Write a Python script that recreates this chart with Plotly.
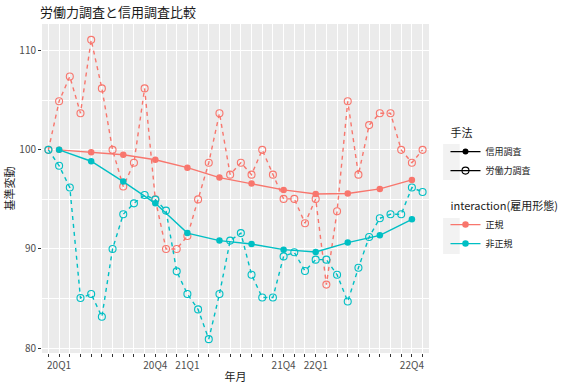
import plotly.graph_objects as go

# Categories: months Jan 2020 .. Dec 2022
months = [f"{y}-{m:02d}" for y in (2020, 2021, 2022) for m in range(1, 13)]

# Tick labels (only at quarter-centre months)
tick_label_map = {
    "2020-02": "20Q1", "2020-11": "20Q4",
    "2021-02": "21Q1", "2021-11": "21Q4",
    "2022-02": "22Q1", "2022-11": "22Q4",
}
tick_text = [tick_label_map.get(m, "") for m in months]

# 信用調査 (quarterly)
credit_months = ["2020-02", "2020-05", "2020-08", "2020-11",
                 "2021-02", "2021-05", "2021-08", "2021-11",
                 "2022-02", "2022-05", "2022-08", "2022-11"]
credit_regular = [100.0, 99.76, 99.5, 99.0, 98.2, 97.2, 96.6, 95.96, 95.55, 95.6, 96.06, 96.97]
credit_nonregular = [100.0, 98.85, 96.8, 94.6, 91.6, 90.84, 90.5, 89.93, 89.7, 90.64, 91.37, 92.99]

# 労働力調査 (monthly)
labor_regular = [100.0, 104.9, 107.4, 103.7, 111.1, 106.2, 100.0, 96.3, 98.7, 106.2, 95.0, 90.0,
                 90.0, 91.3, 95.0, 98.7, 103.7, 97.5, 98.7, 97.5, 100.0, 97.5, 95.05, 95.05,
                 92.6, 95.05, 86.4, 93.8, 104.9, 97.5, 102.5, 103.7, 103.7, 100.0, 98.7, 100.0]
labor_nonregular = [100.0, 98.4, 96.2, 85.05, 85.45, 83.16, 90.0, 93.5, 94.6, 95.45, 94.98, 93.87,
                    87.74, 85.45, 83.9, 80.9, 85.45, 90.84, 91.6, 87.4, 85.1, 85.1, 89.25, 89.66,
                    87.78, 88.92, 88.92, 87.4, 84.7, 88.1, 91.2, 93.1, 93.5, 93.5, 96.2, 95.75]

RED = "#F8766D"
TEAL = "#00BFC4"
FONT = "Noto Sans CJK JP"

# panel geometry (pixels)
L, R, T, B = 42, 141, 24, 34
W, H = 580, 387
PW, PH = W - L - R, H - T - B


def px_x(x):
    return (x - L) / PW


def px_y(y):
    return (H - B - y) / PH


fig = go.Figure()

for vals, col in ((labor_regular, RED), (labor_nonregular, TEAL)):
    fig.add_trace(go.Scatter(
        x=months, y=vals, mode="lines+markers", showlegend=False,
        line=dict(color=col, width=1.4, dash="4px,4px"),
        marker=dict(symbol="circle-open", size=7, color=col, line=dict(width=1.1)),
    ))
for vals, col in ((credit_regular, RED), (credit_nonregular, TEAL)):
    fig.add_trace(go.Scatter(
        x=credit_months, y=vals, mode="lines+markers", showlegend=False,
        line=dict(color=col, width=1.4),
        marker=dict(symbol="circle", size=6.5, color=col),
    ))

# Legend-only traces
fig.add_trace(go.Scatter(
    x=[None], y=[None], mode="lines+markers", name="信用調査",
    legendgroup="method", legendgrouptitle=dict(text="手法", font=dict(size=11, color="#1a1a1a")),
    line=dict(color="black", width=1.4), marker=dict(symbol="circle", size=6, color="black"),
))
fig.add_trace(go.Scatter(
    x=[None], y=[None], mode="lines+markers", name="労働力調査",
    legendgroup="method",
    line=dict(color="black", width=1.4),
    marker=dict(symbol="circle-open", size=7, color="black", line=dict(width=1.1)),
))
fig.add_trace(go.Scatter(
    x=[None], y=[None], mode="lines+markers", name="正規",
    legendgroup="type", legendgrouptitle=dict(text="interaction(雇用形態)", font=dict(size=11, color="#1a1a1a")),
    line=dict(color=RED, width=1.4), marker=dict(symbol="circle", size=6.5, color=RED),
))
fig.add_trace(go.Scatter(
    x=[None], y=[None], mode="lines+markers", name="非正規",
    legendgroup="type",
    line=dict(color=TEAL, width=1.4), marker=dict(symbol="circle", size=6.5, color=TEAL),
))

fig.update_layout(
    width=W, height=H,
    margin=dict(l=L, r=R, t=T, b=B),
    paper_bgcolor="white", plot_bgcolor="#EBEBEB",
    font=dict(family=FONT, color="#4D4D4D", size=10),
    title=dict(text="労働力調査と信用調査比較", x=40 / W, xanchor="left",
               y=1 - 12 / H, yanchor="middle", pad=dict(l=0, r=0, t=0, b=0),
               font=dict(size=13, color="#1a1a1a", family=FONT)),
    legend=dict(x=1.0426, xanchor="left", y=0.714, yanchor="top",
                font=dict(size=9, color="#1a1a1a"), tracegroupgap=16,
                itemwidth=30, bgcolor="rgba(0,0,0,0)"),
    xaxis=dict(
        type="category", categoryorder="array", categoryarray=months,
        tickmode="array", tickvals=months, ticktext=tick_text, automargin=False,
        range=[-0.6, 35.6], showgrid=True, gridcolor="white", gridwidth=1,
        ticks="outside", ticklen=3, tickcolor="#333333", tickwidth=1,
        tickfont=dict(size=10, color="#4D4D4D"), zeroline=False,
        title=dict(text="年月", font=dict(size=11, color="#1a1a1a"), standoff=2),
    ),
    yaxis=dict(
        range=[79.5, 112.7], tick0=80, dtick=10, showgrid=True, gridcolor="white", gridwidth=1.1,
        minor=dict(dtick=5, tick0=80, showgrid=True, gridcolor="white", gridwidth=0.5),
        ticks="outside", ticklen=3, tickcolor="#333333", tickwidth=1, automargin=False,
        tickfont=dict(size=10, color="#4D4D4D"), zeroline=False,
        title=dict(text="基準変動", font=dict(size=11, color="#1a1a1a"), standoff=2),
    ),
)

# light grey legend key backgrounds (ggplot style)
for top in (144, 162, 218, 236):
    fig.add_shape(type="rect", xref="paper", yref="paper",
                  x0=px_x(453.5), x1=px_x(470.5), y0=px_y(top + 18), y1=px_y(top),
                  fillcolor="#F2F2F2", line=dict(width=0), layer="below")

fig.write_html("out.html", config={"displayModeBar": False},
               post_script="document.body.style.margin='0';")
